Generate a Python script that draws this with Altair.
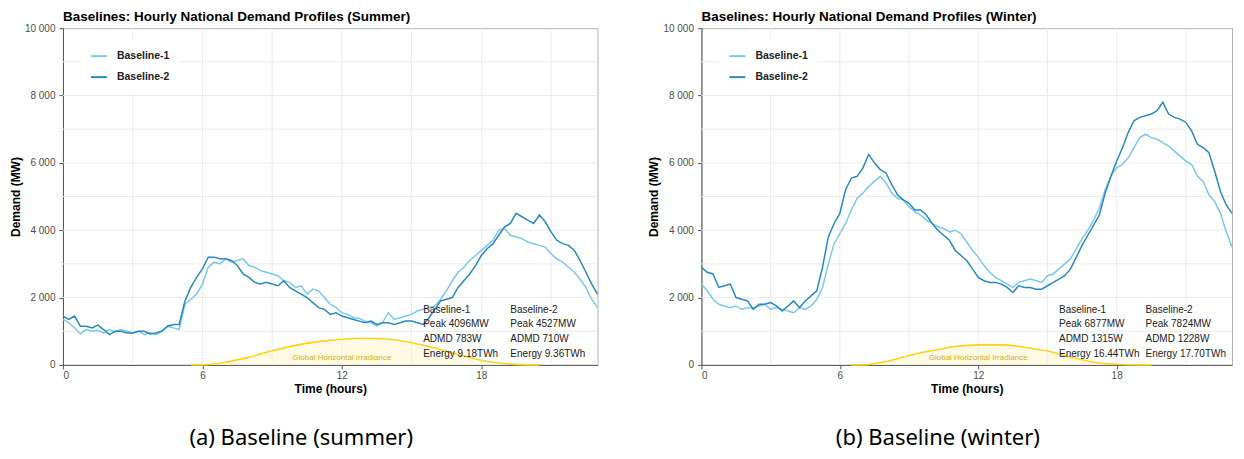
import altair as alt
import pandas as pd

# ---------------- data ----------------
HOURS = [i / 4 for i in range(93)]  # quarter-hour time stamps 0 .. 23 h
SERIES = ["Baseline-1", "Baseline-2"]

SUMMER_B1 = [
    1350, 1250, 1100, 920,
    1050, 1000, 1030, 950,
    1050, 980, 1050, 1000,
    950, 1000, 900, 960,
    900, 1000, 1150, 1100,
    1050, 1800, 1950, 2100,
    2400, 2900, 3050, 3000,
    3150, 3050, 3100, 3150,
    2950, 2900, 2800, 2750,
    2700, 2650, 2500, 2450,
    2300, 2350, 2100, 2250,
    2200, 2000, 1800, 1700,
    1550, 1500, 1400, 1380,
    1300, 1250, 1150, 1250,
    1550, 1350, 1400, 1450,
    1500, 1600, 1650, 1700,
    1750, 1950, 2200, 2500,
    2750, 2900, 3100, 3250,
    3400, 3550, 3700, 4000,
    4050, 3850, 3800, 3750,
    3650, 3600, 3550, 3500,
    3300, 3150, 3050, 2900,
    2750, 2550, 2300, 1950,
    1700,
]
SUMMER_B2 = [
    1450, 1350, 1450, 1150,
    1150, 1100, 1180, 1050,
    900, 1000, 1000, 950,
    950, 1000, 1000, 920,
    950, 1000, 1150, 1200,
    1200, 1900, 2300, 2600,
    2850, 3200, 3200, 3150,
    3150, 3100, 2950, 2700,
    2600, 2450, 2400, 2450,
    2400, 2350, 2500, 2300,
    2200, 2100, 2000, 1850,
    1700, 1650, 1500, 1550,
    1450, 1400, 1350, 1300,
    1250, 1300, 1200, 1250,
    1250, 1200, 1250, 1300,
    1300, 1250, 1200, 1400,
    1650, 1900, 1950, 2000,
    2300, 2500, 2700, 2950,
    3250, 3450, 3600, 3850,
    4100, 4200, 4500, 4400,
    4300, 4200, 4450, 4250,
    3950, 3700, 3600, 3550,
    3400, 3100, 2750, 2400,
    2100,
]
WINTER_B1 = [
    2400, 2200, 1950, 1800,
    1750, 1700, 1750, 1650,
    1700, 1700, 1750, 1800,
    1650, 1700, 1650, 1600,
    1550, 1700, 1650, 1750,
    1950, 2300, 3000, 3600,
    3900, 4200, 4600, 4950,
    5100, 5300, 5450, 5600,
    5400, 5100, 4950, 4900,
    4700, 4550, 4450, 4300,
    4200, 4100, 4050, 3950,
    4000, 3900, 3650, 3400,
    3200, 2950, 2750, 2600,
    2500, 2400, 2300, 2450,
    2500, 2550, 2500, 2450,
    2650, 2700, 2850, 3000,
    3150, 3450, 3750, 4000,
    4300, 4650, 5200, 5600,
    5850, 5950, 6150, 6450,
    6750, 6850, 6750, 6700,
    6600, 6500, 6350, 6200,
    6050, 5950, 5600, 5450,
    5050, 4850, 4500, 3950,
    3500,
]
WINTER_B2 = [
    2900, 2750, 2700, 2300,
    2350, 2400, 2000, 1950,
    1900, 1650, 1800, 1800,
    1850, 1750, 1600, 1750,
    1900, 1700, 1900, 2050,
    2200, 2900, 3800, 4200,
    4500, 5200, 5550, 5600,
    5850, 6250, 6000, 5800,
    5700, 5350, 5050, 4900,
    4800, 4600, 4600, 4450,
    4200, 4000, 3850, 3700,
    3400, 3250, 3100, 2850,
    2600, 2500, 2450, 2450,
    2400, 2300, 2150, 2350,
    2300, 2300, 2250, 2250,
    2350, 2450, 2550, 2650,
    2850, 3200, 3550, 3850,
    4150, 4450, 5100, 5600,
    6050, 6450, 6900, 7250,
    7350, 7400, 7450, 7550,
    7800, 7450, 7350, 7300,
    7200, 6950, 6550, 6450,
    6300, 5750, 5150, 4750,
    4500,
]

GHI_SUMMER_H = [5.5, 6, 7, 8, 9, 10, 11, 12, 13, 14, 15, 16, 17, 18, 19, 20, 20.5]
GHI_SUMMER_V = [0, 0, 80, 230, 420, 580, 690, 760, 790, 760, 660, 500, 310, 140, 40, 0, 0]
GHI_WINTER_H = [6.5, 7, 8, 9, 10, 11, 12, 13, 14, 15, 16, 17, 18, 19, 19.5]
GHI_WINTER_V = [0, 0, 100, 280, 425, 545, 595, 595, 525, 410, 230, 80, 20, 0, 0]

STATS_SUMMER_1 = ["Baseline-1", "Peak 4096MW", "ADMD 783W", "Energy 9.18TWh"]
STATS_SUMMER_2 = ["Baseline-2", "Peak 4527MW", "ADMD 710W", "Energy 9.36TWh"]
STATS_WINTER_1 = ["Baseline-1", "Peak 6877MW", "ADMD 1315W", "Energy 16.44TWh"]
STATS_WINTER_2 = ["Baseline-2", "Peak 7824MW", "ADMD 1228W", "Energy 17.70TWh"]

X_TICKS = [0, 6, 12, 18]
X_GRID = [3, 6, 9, 12, 15, 18, 21]
Y_TICKS = [0, 2000, 4000, 6000, 8000, 10000]
Y_GRID = [1000, 2000, 3000, 4000, 5000, 6000, 7000, 8000, 9000]

# ---------------- style / layout ----------------
FONT = "Liberation Sans"
C_LIGHT = "#7EC6EC"
C_DARK = "#2A88C0"
GRID_C = "#EBEBEB"
HEIGHT = 337
STATS_X = [15.5, 19.25]            # hours, left edge of each stats column
STATS_Y = [1630, 1215, 770, 325]   # MW, centre of each stats row


def panel(title, b1, b2, gh, gv, s1, s2, caption, width):
    pxh = width / 23.0
    xs = alt.X("hour:Q", scale=alt.Scale(domain=[0, 23], nice=False, zero=False),
               axis=alt.Axis(values=X_TICKS, title="Time (hours)", grid=False,
                             tickSize=4, labelPadding=2, titlePadding=3))
    ys = alt.Y("demand:Q", scale=alt.Scale(domain=[0, 10000], nice=False),
               axis=alt.Axis(values=Y_TICKS, title="Demand (MW)", grid=False,
                             tickSize=4, labelPadding=4, titlePadding=2,
                             labelExpr="replace(format(datum.value, ','), ',', ' ')"))

    vgrid = alt.Chart(pd.DataFrame({"hour": X_GRID})).mark_rule(
        color=GRID_C, strokeWidth=1).encode(x=xs)
    hgrid = alt.Chart(pd.DataFrame({"demand": Y_GRID})).mark_rule(
        color=GRID_C, strokeWidth=1).encode(y=ys)

    ghi_df = pd.DataFrame({"hour": gh, "demand": gv})
    ghi_area = alt.Chart(ghi_df).mark_area(
        color="#FFF3C0", opacity=0.45, interpolate="monotone").encode(x=xs, y=ys)
    ghi_line = alt.Chart(ghi_df).mark_line(
        color="#FFD21A", strokeWidth=1.6, interpolate="monotone").encode(x=xs, y=ys)
    ghi_text = alt.Chart(pd.DataFrame({"hour": [12.0]})).mark_text(
        text="Global Horizontal Irradiance", font=FONT, fontSize=8,
        color="#D2B024", baseline="middle", align="center").encode(
        x=xs, y=alt.value(HEIGHT - 6.5))

    dem = pd.DataFrame({
        "hour": HOURS + HOURS,
        "demand": b1 + b2,
        "series": [SERIES[0]] * len(b1) + [SERIES[1]] * len(b2),
        "k": [0] * len(b1) + [1] * len(b2),
    })
    lines = alt.Chart(dem).mark_line(strokeWidth=1.5).encode(
        x=xs, y=ys,
        color=alt.Color("series:N",
                        scale=alt.Scale(domain=SERIES, range=[C_LIGHT, C_DARK]),
                        legend=alt.Legend(title=None, orient="none", legendX=18, legendY=10,
                                          fillColor="white", padding=9,
                                          symbolType="stroke", symbolStrokeWidth=2,
                                          symbolSize=256, labelFont=FONT,
                                          labelFontSize=10.5, labelFontWeight="bold",
                                          labelColor="#222222", labelOffset=9,
                                          rowPadding=6)),
        order="k:O",
        detail="series:N",
    )

    rows = []
    for c, col in enumerate([s1, s2]):
        for r, txt in enumerate(col):
            rows.append({"hour": STATS_X[c], "demand": STATS_Y[r], "label": txt})
    stats = alt.Chart(pd.DataFrame(rows)).mark_text(
        align="left", baseline="middle", font=FONT, fontSize=10,
        color="#222222").encode(x=xs, y=ys, text="label:N")

    cap = alt.Chart(pd.DataFrame({"c": [caption]})).mark_text(
        font="Noto Sans", fontSize=22, color="#000000", align="center",
        baseline="middle").encode(x=alt.value(10.25 * pxh), y=alt.value(HEIGHT + 73),
                                  text="c:N")

    return alt.layer(vgrid, hgrid, ghi_area, ghi_line, ghi_text, lines, stats, cap).properties(
        width=width, height=HEIGHT,
        title=alt.TitleParams(title, anchor="start", frame="group"),
    )


left = panel("Baselines: Hourly National Demand Profiles (Summer)",
             SUMMER_B1, SUMMER_B2, GHI_SUMMER_H, GHI_SUMMER_V,
             STATS_SUMMER_1, STATS_SUMMER_2, "(a) Baseline (summer)", 535)
right = panel("Baselines: Hourly National Demand Profiles (Winter)",
              WINTER_B1, WINTER_B2, GHI_WINTER_H, GHI_WINTER_V,
              STATS_WINTER_1, STATS_WINTER_2, "(b) Baseline (winter)", 531)

chart = alt.hconcat(left, right, spacing=45).resolve_scale(
    color="independent").resolve_legend(color="independent").properties(
    padding={"left": 0, "top": 0, "right": 0, "bottom": 0}
).configure(background="white").configure_view(
    stroke="#B3B3B3", strokeWidth=1
).configure_axis(
    labelFont=FONT, labelFontSize=10, labelColor="#4D4D4D",
    titleFont=FONT, titleFontSize=12, titleFontWeight="bold", titleColor="#000000",
    domainColor="#555555", tickColor="#555555",
).configure_title(
    font=FONT, fontSize=13.5, fontWeight="bold", color="#000000", offset=0.01,
)

chart.save("out.html", embed_options={"renderer": "svg", "actions": False})
